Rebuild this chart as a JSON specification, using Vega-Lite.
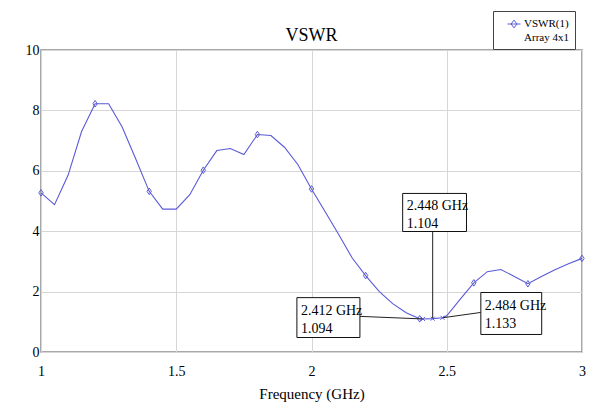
{
  "$schema": "https://vega.github.io/schema/vega-lite/v6.json",
  "width": 541,
  "height": 302,
  "autosize": {"type": "none"},
  "padding": {"left": 41, "top": 50, "right": 26, "bottom": 65},
  "background": "white",
  "title": {
    "text": "VSWR",
    "anchor": "middle",
    "offset": 8,
    "dy": 56,
    "baseline": "alphabetic",
    "font": "Liberation Serif",
    "fontSize": 18,
    "fontWeight": "normal",
    "color": "#000000"
  },
  "config": {
    "view": {"stroke": "#8c8c8c", "strokeWidth": 1.5},
    "axis": {
      "domain": false,
      "ticks": false,
      "grid": true,
      "gridColor": "#d6d6d6",
      "gridWidth": 1,
      "labelFont": "Liberation Serif",
      "labelFontSize": 14,
      "labelColor": "#000000",
      "labelFlush": false,
      "labelOverlap": false,
      "titleFont": "Liberation Serif",
      "titleFontSize": 15,
      "titleFontWeight": "normal",
      "titleColor": "#000000"
    }
  },
  "datasets": {
    "curve": [
      {"f": 1.00, "vswr": 5.27, "series": "VSWR(1)"},
      {"f": 1.05, "vswr": 4.88, "series": "VSWR(1)"},
      {"f": 1.10, "vswr": 5.85, "series": "VSWR(1)"},
      {"f": 1.15, "vswr": 7.30, "series": "VSWR(1)"},
      {"f": 1.20, "vswr": 8.22, "series": "VSWR(1)"},
      {"f": 1.25, "vswr": 8.22, "series": "VSWR(1)"},
      {"f": 1.30, "vswr": 7.45, "series": "VSWR(1)"},
      {"f": 1.35, "vswr": 6.40, "series": "VSWR(1)"},
      {"f": 1.40, "vswr": 5.32, "series": "VSWR(1)"},
      {"f": 1.45, "vswr": 4.73, "series": "VSWR(1)"},
      {"f": 1.50, "vswr": 4.73, "series": "VSWR(1)"},
      {"f": 1.55, "vswr": 5.21, "series": "VSWR(1)"},
      {"f": 1.60, "vswr": 6.02, "series": "VSWR(1)"},
      {"f": 1.65, "vswr": 6.67, "series": "VSWR(1)"},
      {"f": 1.70, "vswr": 6.74, "series": "VSWR(1)"},
      {"f": 1.75, "vswr": 6.54, "series": "VSWR(1)"},
      {"f": 1.80, "vswr": 7.20, "series": "VSWR(1)"},
      {"f": 1.85, "vswr": 7.17, "series": "VSWR(1)"},
      {"f": 1.90, "vswr": 6.78, "series": "VSWR(1)"},
      {"f": 1.95, "vswr": 6.20, "series": "VSWR(1)"},
      {"f": 2.00, "vswr": 5.40, "series": "VSWR(1)"},
      {"f": 2.05, "vswr": 4.65, "series": "VSWR(1)"},
      {"f": 2.10, "vswr": 3.90, "series": "VSWR(1)"},
      {"f": 2.15, "vswr": 3.12, "series": "VSWR(1)"},
      {"f": 2.20, "vswr": 2.53, "series": "VSWR(1)"},
      {"f": 2.25, "vswr": 2.01, "series": "VSWR(1)"},
      {"f": 2.30, "vswr": 1.60, "series": "VSWR(1)"},
      {"f": 2.35, "vswr": 1.30, "series": "VSWR(1)"},
      {"f": 2.40, "vswr": 1.10, "series": "VSWR(1)"},
      {"f": 2.412, "vswr": 1.094, "series": "VSWR(1)"},
      {"f": 2.448, "vswr": 1.104, "series": "VSWR(1)"},
      {"f": 2.484, "vswr": 1.133, "series": "VSWR(1)"},
      {"f": 2.50, "vswr": 1.20, "series": "VSWR(1)"},
      {"f": 2.55, "vswr": 1.75, "series": "VSWR(1)"},
      {"f": 2.60, "vswr": 2.29, "series": "VSWR(1)"},
      {"f": 2.65, "vswr": 2.66, "series": "VSWR(1)"},
      {"f": 2.70, "vswr": 2.73, "series": "VSWR(1)"},
      {"f": 2.75, "vswr": 2.50, "series": "VSWR(1)"},
      {"f": 2.80, "vswr": 2.26, "series": "VSWR(1)"},
      {"f": 2.85, "vswr": 2.50, "series": "VSWR(1)"},
      {"f": 2.90, "vswr": 2.72, "series": "VSWR(1)"},
      {"f": 2.95, "vswr": 2.92, "series": "VSWR(1)"},
      {"f": 3.00, "vswr": 3.10, "series": "VSWR(1)"}
    ],
    "callouts": [
      {"f": 2.412, "vswr": 1.094, "text": "2.412 GHz\n1.094", "boxF1": 1.946, "boxF2": 2.179, "boxV1": 1.80, "boxV2": 0.48, "leadF": 2.179, "leadV": 1.18},
      {"f": 2.448, "vswr": 1.104, "text": "2.448 GHz\n1.104", "boxF1": 2.337, "boxF2": 2.573, "boxV1": 5.25, "boxV2": 3.99, "leadF": 2.448, "leadV": 3.99},
      {"f": 2.484, "vswr": 1.133, "text": "2.484 GHz\n1.133", "boxF1": 2.626, "boxF2": 2.851, "boxV1": 1.97, "boxV2": 0.58, "leadF": 2.626, "leadV": 1.31}
    ]
  },
  "layer": [
    {
      "data": {"name": "curve"},
      "mark": {"type": "line", "strokeWidth": 1.1, "interpolate": "linear"},
      "encoding": {
        "x": {
          "field": "f", "type": "quantitative",
          "scale": {"domain": [1, 3], "nice": false},
          "axis": {"values": [1, 1.5, 2, 2.5, 3], "format": "~g", "labelPadding": 12, "titlePadding": 8},
          "title": "Frequency (GHz)"
        },
        "y": {
          "field": "vswr", "type": "quantitative",
          "scale": {"domain": [0, 10], "nice": false},
          "axis": {"values": [0, 2, 4, 6, 8, 10], "labelPadding": 2},
          "title": null
        },
        "color": {
          "field": "series", "type": "nominal",
          "scale": {"range": ["#5a5ad8"]},
          "legend": {
            "orient": "none",
            "legendX": 452,
            "legendY": -39,
            "title": "Array 4x1",
            "titleOrient": "bottom",
            "titleAnchor": "end",
            "titleFont": "Liberation Serif",
            "titleFontSize": 11,
            "titleFontWeight": "normal",
            "titleColor": "#000000",
            "titlePadding": 2,
            "labelFont": "Liberation Serif",
            "labelFontSize": 11,
            "labelColor": "#000000",
            "labelOffset": 3,
            "symbolOffset": 8,
            "symbolType": "M-1,0H1M0,-0.6L0.45,0L0,0.6L-0.45,0Z",
            "symbolSize": 169,
            "symbolStrokeWidth": 1,
            "symbolFillColor": "transparent",
            "symbolStrokeColor": "#5a5ad8",
            "strokeColor": "#444444",
            "fillColor": "white",
            "padding": 6
          }
        }
      }
    },
    {
      "data": {"name": "curve"},
      "transform": [{"filter": "abs(datum.f * 5 - round(datum.f * 5)) < 0.001"}],
      "mark": {"type": "point", "shape": "M0,-1.2L0.8,0L0,1.2L-0.8,0Z", "size": 30, "filled": false, "color": "#5a5ad8", "strokeWidth": 1, "opacity": 1},
      "encoding": {
        "x": {"field": "f", "type": "quantitative", "title": "Frequency (GHz)"},
        "y": {"field": "vswr", "type": "quantitative", "title": null}
      }
    },
    {
      "data": {"name": "callouts"},
      "mark": {"type": "rule", "color": "#222222", "strokeWidth": 1},
      "encoding": {
        "x": {"field": "f", "type": "quantitative", "title": "Frequency (GHz)"},
        "y": {"field": "vswr", "type": "quantitative", "title": null},
        "x2": {"field": "leadF"},
        "y2": {"field": "leadV"}
      }
    },
    {
      "data": {"name": "callouts"},
      "mark": {"type": "point", "shape": "M-1,-1L1,1M-1,1L1,-1", "size": 16, "filled": false, "color": "#5a5ad8", "strokeWidth": 1, "opacity": 1},
      "encoding": {
        "x": {"field": "f", "type": "quantitative", "title": "Frequency (GHz)"},
        "y": {"field": "vswr", "type": "quantitative", "title": null}
      }
    },
    {
      "data": {"name": "callouts"},
      "mark": {"type": "rect", "fill": "white", "stroke": "#111111", "strokeWidth": 1},
      "encoding": {
        "x": {"field": "boxF1", "type": "quantitative", "title": "Frequency (GHz)"},
        "x2": {"field": "boxF2"},
        "y": {"field": "boxV1", "type": "quantitative", "title": null},
        "y2": {"field": "boxV2"}
      }
    },
    {
      "data": {"name": "callouts"},
      "mark": {"type": "text", "align": "left", "baseline": "top", "dx": 4, "dy": 6, "lineBreak": "\n", "lineHeight": 18, "font": "Liberation Serif", "fontSize": 14, "color": "#000000"},
      "encoding": {
        "x": {"field": "boxF1", "type": "quantitative", "title": "Frequency (GHz)"},
        "y": {"field": "boxV1", "type": "quantitative", "title": null},
        "text": {"field": "text"}
      }
    }
  ]
}
